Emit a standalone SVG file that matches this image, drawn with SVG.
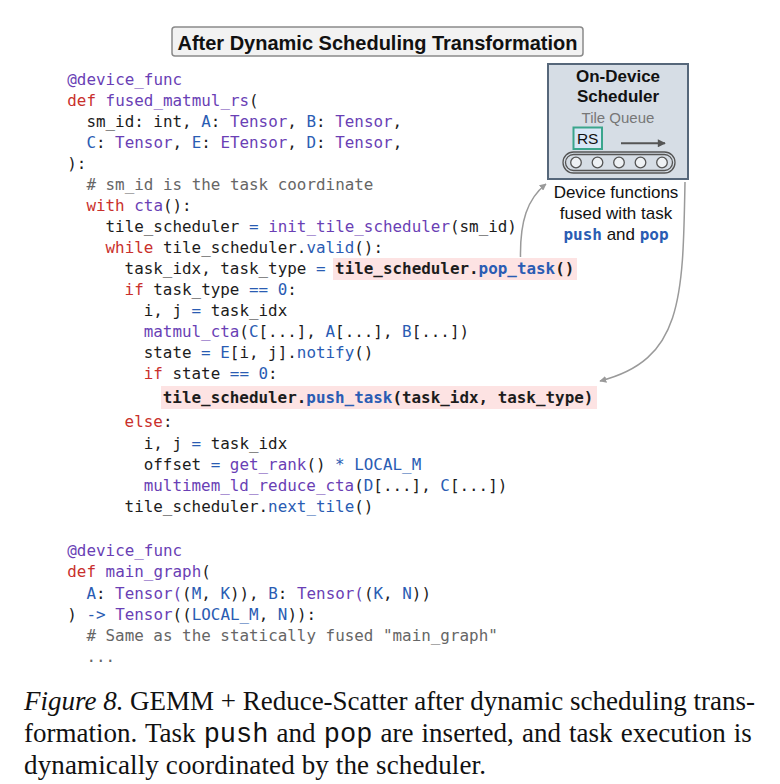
<svg xmlns="http://www.w3.org/2000/svg" width="780" height="784" viewBox="0 0 780 784">
<style>
.code{font-family:"DejaVu Sans Mono","Liberation Mono",monospace;font-size:15.9px;fill:#1c1c1c;white-space:pre}
.k{fill:#c9302c}
.p{fill:#6a3fb5}
.b{fill:#2a5cb3}
.c{fill:#666666}
.bold{font-weight:bold}
.sans{font-family:"Liberation Sans",Arial,sans-serif}
.serif{font-family:"Liberation Serif","Times New Roman",serif;font-size:27px;fill:#111}
.mono{font-family:"Liberation Mono","Courier New",monospace}
.hl{fill:#fde3e3}
.conn{fill:none;stroke:#9a9a9a;stroke-width:1.5}
</style>
<defs>
<marker id="ah" viewBox="0 0 10 10" refX="9" refY="5" markerWidth="7" markerHeight="7" markerUnits="userSpaceOnUse" orient="auto">
<path d="M0,0 L10,5 L0,10 z" fill="#9a9a9a"/>
</marker>
<marker id="ahd" viewBox="0 0 10 10" refX="9" refY="5" markerWidth="9" markerHeight="8" markerUnits="userSpaceOnUse" orient="auto">
<path d="M0,0 L10,5 L0,10 z" fill="#555"/>
</marker>
</defs>
<rect width="780" height="784" fill="#ffffff"/>

<g id="title">
<rect x="172" y="27" width="411" height="29" rx="3" fill="#f2f2f2" stroke="#8a8a8a" stroke-width="1.5"/>
<text x="377.5" y="49.5" text-anchor="middle" class="sans" font-size="20" font-weight="bold" fill="#111">After Dynamic Scheduling Transformation</text>
</g>

<g id="highlights">
<rect class="hl" x="333" y="258" width="244" height="22"/>
<rect class="hl" x="161" y="386" width="436" height="23"/>
</g>

<g id="code" class="code" xml:space="preserve">
<text x="67.3" y="85"><tspan class="p">@device_func</tspan></text>
<text x="67.3" y="106"><tspan class="k">def</tspan> <tspan class="p">fused_matmul_rs</tspan>(</text>
<text x="86.4" y="127">sm_id: int, <tspan class="b">A</tspan>: <tspan class="p">Tensor</tspan>, <tspan class="b">B</tspan>: <tspan class="p">Tensor</tspan>,</text>
<text x="86.4" y="148"><tspan class="b">C</tspan>: <tspan class="p">Tensor</tspan>, <tspan class="b">E</tspan>: <tspan class="p">ETensor</tspan>, <tspan class="b">D</tspan>: <tspan class="p">Tensor</tspan>,</text>
<text x="67.3" y="169">):</text>
<text x="86.4" y="190"><tspan class="c"># sm_id is the task coordinate</tspan></text>
<text x="86.4" y="211"><tspan class="k">with</tspan> <tspan class="p">cta</tspan>():</text>
<text x="105.5" y="232">tile_scheduler <tspan class="b">=</tspan> <tspan class="p">init_tile_scheduler</tspan>(sm_id)</text>
<text x="105.5" y="253"><tspan class="k">while</tspan> tile_scheduler.<tspan class="b">valid</tspan>():</text>
<text x="124.6" y="274">task_idx, task_type <tspan class="b">=</tspan> <tspan class="bold">tile_scheduler.<tspan class="b">pop_task</tspan>()</tspan></text>
<text x="124.6" y="295"><tspan class="k">if</tspan> task_type <tspan class="b">==</tspan> <tspan class="b">0</tspan>:</text>
<text x="143.7" y="316">i, j <tspan class="b">=</tspan> task_idx</text>
<text x="143.7" y="337"><tspan class="p">matmul_cta</tspan>(<tspan class="b">C</tspan>[...], <tspan class="b">A</tspan>[...], <tspan class="b">B</tspan>[...])</text>
<text x="143.7" y="358">state <tspan class="b">=</tspan> <tspan class="b">E</tspan>[i, j].<tspan class="b">notify</tspan>()</text>
<text x="143.7" y="379"><tspan class="k">if</tspan> state <tspan class="b">==</tspan> <tspan class="b">0</tspan>:</text>
<text x="162.8" y="403" class="bold">tile_scheduler.<tspan class="b">push_task</tspan>(task_idx, task_type)</text>
<text x="124.6" y="427"><tspan class="k">else</tspan>:</text>
<text x="143.7" y="448.5">i, j <tspan class="b">=</tspan> task_idx</text>
<text x="143.7" y="469.5">offset <tspan class="b">=</tspan> <tspan class="p">get_rank</tspan>() <tspan class="b">*</tspan> <tspan class="b">LOCAL_M</tspan></text>
<text x="143.7" y="490.5"><tspan class="p">multimem_ld_reduce_cta</tspan>(<tspan class="b">D</tspan>[...], <tspan class="b">C</tspan>[...])</text>
<text x="124.6" y="511.5">tile_scheduler.<tspan class="b">next_tile</tspan>()</text>
<text x="67.3" y="555.5"><tspan class="p">@device_func</tspan></text>
<text x="67.3" y="577"><tspan class="k">def</tspan> <tspan class="p">main_graph</tspan>(</text>
<text x="86.4" y="598.5"><tspan class="b">A</tspan>: <tspan class="p">Tensor(</tspan>(<tspan class="b">M</tspan>, <tspan class="b">K</tspan>)), <tspan class="b">B</tspan>: <tspan class="p">Tensor(</tspan>(<tspan class="b">K</tspan>, <tspan class="b">N</tspan>))</text>
<text x="67.3" y="619.5">) <tspan class="b">-&gt;</tspan> <tspan class="p">Tensor</tspan>((<tspan class="b">LOCAL_M</tspan>, <tspan class="b">N</tspan>)):</text>
<text x="86.4" y="641"><tspan class="c"># Same as the statically fused "main_graph"</tspan></text>
<text x="86.4" y="662"><tspan class="c">...</tspan></text>
</g>

<g id="scheduler">
<rect x="548" y="64" width="140" height="115" fill="#d6dde5" stroke="#56677a" stroke-width="2"/>
<text x="618" y="81.5" text-anchor="middle" class="sans" font-size="17" font-weight="bold" fill="#111">On-Device</text>
<text x="618" y="101.5" text-anchor="middle" class="sans" font-size="17" font-weight="bold" fill="#111">Scheduler</text>
<text x="618" y="122.5" text-anchor="middle" class="sans" font-size="15" fill="#777">Tile Queue</text>
<rect x="573.5" y="127.5" width="28.5" height="21.5" fill="#d9e7f6" stroke="#3aa58c" stroke-width="2"/>
<text x="587.7" y="143.8" text-anchor="middle" class="sans" font-size="15.5" fill="#111">RS</text>
<line x1="621" y1="143.3" x2="665" y2="143.3" stroke="#555" stroke-width="2" marker-end="url(#ahd)"/>
<rect x="563" y="152" width="112" height="21" rx="10.5" fill="none" stroke="#555" stroke-width="1.3"/>
<rect x="565.5" y="154.5" width="107" height="16" rx="8" fill="none" stroke="#555" stroke-width="1.3"/>
<g fill="#eef1f4" stroke="#555" stroke-width="1.3">
<circle cx="576" cy="162.5" r="5.3"/>
<circle cx="597.5" cy="162.5" r="5.3"/>
<circle cx="619" cy="162.5" r="5.3"/>
<circle cx="640.5" cy="162.5" r="5.3"/>
<circle cx="662" cy="162.5" r="5.3"/>
</g>
</g>

<g id="note">
<text x="616" y="197.5" text-anchor="middle" class="sans" font-size="17" fill="#111">Device functions</text>
<text x="616" y="218.5" text-anchor="middle" class="sans" font-size="17" fill="#111">fused with task</text>
<text x="616" y="240" text-anchor="middle" class="sans" font-size="17" fill="#111"><tspan font-family="DejaVu Sans Mono, monospace" font-weight="bold" font-size="16" fill="#2a5cb3">push</tspan> and <tspan font-family="DejaVu Sans Mono, monospace" font-weight="bold" font-size="16" fill="#2a5cb3">pop</tspan></text>
</g>

<g id="connectors">
<path class="conn" d="M520.5,257 C520,222 527,199 546,184" marker-end="url(#ah)"/>
<path class="conn" d="M685,182 C683,300 682,360 600,381" marker-end="url(#ah)"/>
</g>

<g id="caption">
<text x="24" y="710" class="serif" textLength="731" lengthAdjust="spacing"><tspan font-style="italic">Figure 8.</tspan> GEMM + Reduce-Scatter after dynamic scheduling trans-</text>
<text x="24" y="742" class="serif" word-spacing="1.4">formation.  Task <tspan class="mono">push</tspan> and <tspan class="mono">pop</tspan> are inserted, and task execution is</text>
<text x="24" y="774" class="serif" textLength="462" lengthAdjust="spacing">dynamically coordinated by the scheduler.</text>
</g>
</svg>
